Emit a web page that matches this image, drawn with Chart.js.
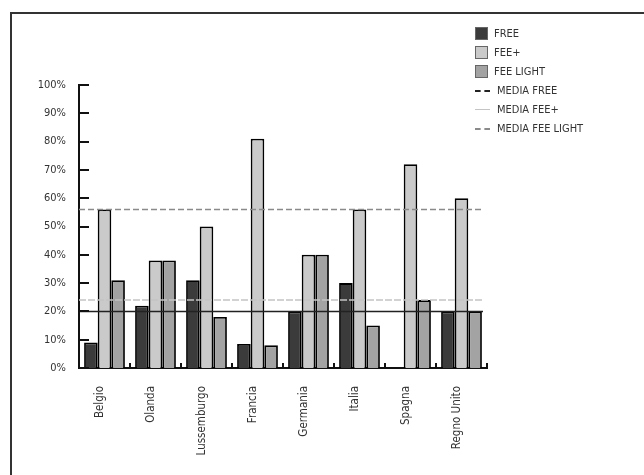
<!DOCTYPE html>
<html>
<head>
<meta charset="utf-8">
<script src="https://cdn.jsdelivr.net/npm/chart.js@4.4.1/dist/chart.umd.min.js"></script>
<style>
  html, body { margin:0; padding:0; width:644px; height:475px; overflow:hidden; background:#fff; }
  #frame { position:absolute; left:10px; top:12px; width:800px; height:600px;
           border-top:2px solid #333; border-left:2px solid #333; }
  #wrap { position:absolute; left:0; top:0; width:644px; height:475px; }
  #legend { position:absolute; left:475px; top:24px; font-family:'Liberation Sans Narrow','DejaVu Sans Condensed',Arial,sans-serif;
            font-size:11px; color:#333; }
  .row { height:19px; display:flex; align-items:center; }
  .sw { width:13px; height:13px; box-sizing:border-box; margin-right:6px; }
  .ln { width:15px; height:0; margin-right:7px; }
</style>
</head>
<body>
<div id="frame"></div>
<div id="wrap"><canvas id="c" width="644" height="475"></canvas></div>
<div id="legend"></div>
<script>
const categories = ['Belgio','Olanda','Lussemburgo','Francia','Germania','Italia','Spagna','Regno Unito'];
const free      = [9, 22, 31, 8.5, 20, 30, 0, 20];
const feePlus   = [56, 38, 50, 81, 40, 56, 72, 60];
const feeLight  = [31, 38, 18, 8, 40, 15, 24, 20];
const mediaLabels = ['MEDIA FREE', 'MEDIA FEE+', 'MEDIA FEE LIGHT'];
const mediaValues = [20, 56, 24];
const yTicks = [0,10,20,30,40,50,60,70,80,90,100];

const FONT = "'Liberation Sans Narrow','DejaVu Sans Condensed',Arial,sans-serif";

const datasets = [
  {label:'FREE', data:free, backgroundColor:'#3b3b3b', borderColor:'#000', borderWidth:1.8},
  {label:'FEE+', data:feePlus, backgroundColor:'#cacaca', borderColor:'#000', borderWidth:1.8},
  {label:'FEE LIGHT', data:feeLight, backgroundColor:'#a3a3a3', borderColor:'#000', borderWidth:1.8}
];
// styles for the median reference lines (chart) and their legend samples
const mediaStyles = [
  {color:'#222', width:1.5, dash:[]},
  {color:'#8a8a8a', width:1.5, dash:[6,3]},
  {color:'#c4c4c4', width:1.5, dash:[7,2]}
];
const legendLineStyle = ['2px dashed #222','1.5px solid #c4c4c4','2px dashed #8a8a8a'];

const medianLines = {
  id:'medianLines',
  afterDatasetsDraw(chart){
    const ctx = chart.ctx, y = chart.scales.y, a = chart.chartArea;
    ctx.save();
    mediaValues.forEach((v, i) => {
      const st = mediaStyles[i];
      const py = y.getPixelForValue(v);
      ctx.strokeStyle = st.color; ctx.lineWidth = st.width; ctx.setLineDash(st.dash);
      ctx.beginPath(); ctx.moveTo(a.left, py); ctx.lineTo(a.right - 4, py); ctx.stroke();
    });
    ctx.restore();
  }
};

const inwardTicks = {
  id:'inwardTicks',
  afterDraw(chart){
    const ctx = chart.ctx, y = chart.scales.y, x = chart.scales.x, a = chart.chartArea;
    ctx.save();
    ctx.strokeStyle = '#111';
    ctx.lineWidth = 2;
    yTicks.forEach(v => {
      const py = Math.round(y.getPixelForValue(v));
      ctx.beginPath(); ctx.moveTo(a.left, py); ctx.lineTo(a.left + 10, py); ctx.stroke();
    });
    const half = (x.getPixelForValue(1) - x.getPixelForValue(0)) / 2;
    for (let i = 0; i < categories.length; i++) {
      const px = x.getPixelForValue(i) + half;
      ctx.beginPath(); ctx.moveTo(px, a.bottom); ctx.lineTo(px, a.bottom - 5); ctx.stroke();
    }
    ctx.restore();
  }
};

const chart = new Chart(document.getElementById('c'), {
  type:'bar',
  data:{ labels:categories, datasets },
  options:{
    responsive:false, animation:false,
    layout:{ padding:{ left:0, top:85, right:157, bottom:0 } },
    datasets:{ bar:{ categoryPercentage:0.8, barPercentage:1.0 } },
    plugins:{ legend:{display:false}, tooltip:{enabled:false}, title:{display:false} },
    scales:{
      x:{
        grid:{ display:false },
        border:{ display:true, color:'#111', width:2 },
        ticks:{ color:'#333', font:{family:FONT, size:11.5}, minRotation:90, maxRotation:90, padding:10, autoSkip:false, labelOffset:-4 },
        afterFit(s){ s.height = 107; }
      },
      y:{
        min:0, max:100,
        grid:{ display:false },
        border:{ display:true, color:'#111', width:2 },
        ticks:{ stepSize:10, color:'#333', font:{family:FONT, size:11}, padding:5, callback:v => v + '%' },
        afterFit(s){ s.width = 79; }
      }
    }
  },
  plugins:[medianLines, inwardTicks]
});

// HTML legend built from the datasets and median labels
const leg = document.getElementById('legend');
datasets.forEach(ds => {
  const row = document.createElement('div'); row.className = 'row';
  const s = document.createElement('div'); s.className = 'sw';
  s.style.background = ds.backgroundColor; s.style.border = '1px solid #666';
  const t = document.createElement('span'); t.textContent = ds.label;
  row.appendChild(s); row.appendChild(t); leg.appendChild(row);
});
mediaLabels.forEach((lab, i) => {
  const row = document.createElement('div'); row.className = 'row';
  const s = document.createElement('div'); s.className = 'ln';
  s.style.borderTop = legendLineStyle[i];
  const t = document.createElement('span'); t.textContent = lab;
  row.appendChild(s); row.appendChild(t); leg.appendChild(row);
});
</script>
</body>
</html>
